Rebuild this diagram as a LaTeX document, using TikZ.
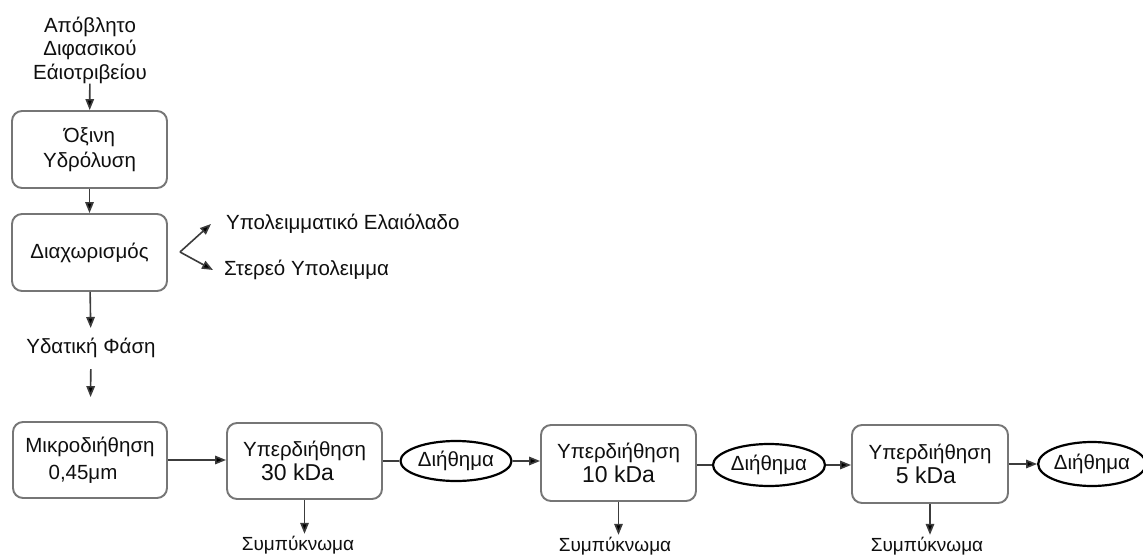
\documentclass[tikz,border=0pt]{standalone}
\usepackage{fontspec}
\setmainfont{Liberation Sans}
\usetikzlibrary{arrows.meta,shapes.geometric}
\definecolor{boxgray}{RGB}{118,118,118}
\definecolor{linegray}{RGB}{60,60,60}
\definecolor{inktext}{RGB}{15,15,15}
\begin{document}
\begin{tikzpicture}[x=1pt,y=-1pt,
  every node/.style={font=\fontsize{20.5}{23.5}\selectfont,text=inktext},
  box/.style={draw=boxgray,line width=1.9pt,rounded corners=10pt,minimum width=155pt,minimum height=77pt,align=center,inner sep=0pt},
  oval/.style={draw=black,line width=2.2pt,ellipse,minimum width=111pt,minimum height=40pt,inner sep=0pt},
  txt/.style={inner sep=0pt,align=center},
  arr/.style={draw=linegray,line width=1.6pt,-{Triangle[length=11pt,width=8.5pt,fill=black]}},
  link/.style={draw=linegray,line width=1.6pt},
  small/.style={font=\fontsize{19}{22}\selectfont}
]
\useasboundingbox[fill=white] (0,0) rectangle (1143,556);

% left column
\node[txt] (src) at (90,50) {Απόβλητο\\Διφασικού\\Εάιοτριβείου};
\node[box] (hyd) at (89.5,149.5) {Όξινη\\[1.5pt]Υδρόλυση};
\node[box] (sep) at (89.5,252.5) {Διαχωρισμός};
\coordinate (br) at (180,252);
\coordinate (oiltip) at (211,224);
\coordinate (soltip) at (213,270);
\node[txt,anchor=west] (oil) at (226,224) {Υπολειμματικό Ελαιόλαδο};
\node[txt,anchor=west] (sol) at (224,270) {Στερεό Υπολειμμα};
\node[txt] (aq) at (91,348) {Υδατική Φάση};

% bottom row
\node[box,minimum width=154pt,minimum height=76pt] (mf) at (90,460) {Μικροδιήθηση\\[3pt]\hspace*{-14pt}0,45μm};
\node[box,minimum height=76pt] (u30) at (304.5,461) {Υπερδιήθηση\\\hspace*{-14pt}{\fontsize{23}{23.5}\selectfont 30 kDa}};
\node[oval] (f1) at (456,461) {Διήθημα};
\node[box,minimum height=76pt] (u10) at (618.5,463) {Υπερδιήθηση\\{\fontsize{23}{23.5}\selectfont 10 kDa}};
\node[oval,minimum width=112pt,minimum height=42pt] (f2) at (769,465) {Διήθημα};
\node[box,minimum width=156pt,minimum height=78pt] (u5) at (930,464) {Υπερδιήθηση\\\hspace*{-8pt}{\fontsize{23}{23.5}\selectfont 5 kDa}};
\node[oval,minimum width=104pt,minimum height=44pt] (f3) at (1092,464) {Διήθημα};

\node[txt,small] (c30) at (298,545) {Συμπύκνωμα};
\node[txt,small] (c10) at (615,546) {Συμπύκνωμα};
\node[txt,small] (c5) at (927,546) {Συμπύκνωμα};

% connectors
\draw[arr] (src) -- (hyd);
\draw[arr] (hyd) -- (sep);
\draw[arr,shorten >=10pt] (sep) -- (aq);
\draw[arr,shorten <=11pt,shorten >=24pt] (aq) -- (mf);
\draw[arr] (br) -- (oiltip);
\draw[arr] (br) -- (soltip);

\draw[arr] (mf.east) -- (mf.east -| u30.west);
\draw[link] (u30.east |- f1.west) -- (f1.west);
\draw[arr] (f1.east) -- (f1.east -| u10.west);
\draw[link] (u10.east |- f2.west) -- (f2.west);
\draw[arr] (f2.east) -- (f2.east -| u5.west);
\draw[arr] (u5.east |- f3.west) -- (f3.west);

\draw[arr,shorten >=2pt] (u30.south) -- (u30.south |- c30.north);
\draw[arr,shorten >=2pt] (u10.south) -- (u10.south |- c10.north);
\draw[arr,shorten >=2pt] (u5.south) -- (u5.south |- c5.north);
\end{tikzpicture}
\end{document}
